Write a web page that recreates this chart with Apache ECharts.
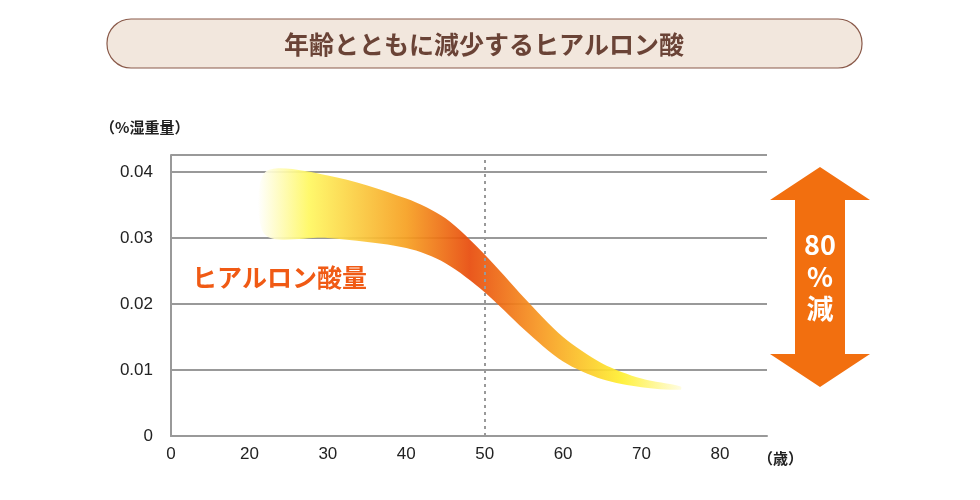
<!DOCTYPE html>
<html>
<head>
<meta charset="utf-8">
<script src="https://cdn.jsdelivr.net/npm/echarts@6/dist/echarts.min.js"></script>
</head>
<body style="margin:0">
<div id="main" style="width:980px;height:500px"></div>
<script>
var ages = [22, 30, 40, 45, 50, 55, 60, 65, 70, 75];
var upper = [0.0400, 0.0395, 0.0360, 0.0330, 0.0275, 0.0210, 0.0150, 0.0110, 0.0087, 0.0075];
var lower = [0.0305, 0.0300, 0.0285, 0.0262, 0.0218, 0.0162, 0.0113, 0.0086, 0.0074, 0.0070];
var xTicks = [10, 20, 30, 40, 50, 60, 70, 80];

var chart = echarts.init(document.getElementById('main'));
var font = '"Noto Sans CJK JP", sans-serif';

chart.setOption({
  grid: { left: 171, right: 213, top: 155, bottom: 64 },
  xAxis: {
    type: 'value', min: 10, max: 86, interval: 10,
    axisLine: { lineStyle: { color: '#999', width: 2 } },
    axisTick: { show: false }, splitLine: { show: false },
    axisLabel: { color: '#222', fontSize: 17, fontFamily: 'Arial', margin: 10,
      formatter: function (v) { return xTicks.indexOf(v) < 0 ? '' : (v === 10 ? '0' : v); } }
  },
  yAxis: {
    type: 'value', min: 0, max: 0.0426, interval: 0.01,
    axisLine: { show: true, lineStyle: { color: '#999', width: 2 } },
    axisTick: { show: false },
    splitLine: { lineStyle: { color: '#999', width: 2 } },
    axisLabel: { color: '#222', fontSize: 17, fontFamily: 'Arial', margin: 18,
      formatter: function (v) { return v > 0.0405 ? '' : (v === 0 ? '0' : v.toFixed(2)); } }
  },
  series: [
    { type: 'custom', silent: true, z: 1,
      data: [0],
      renderItem: function (params, api) {
        var pts = [];
        for (var i = 0; i < ages.length; i++) pts.push(api.coord([ages[i], upper[i]]));
        for (var j = ages.length - 1; j >= 0; j--) pts.push(api.coord([ages[j], lower[j]]));
        return { type: 'polygon', shape: { points: pts, smooth: 0.3 },
          style: { opacity: 0.92, fill: new echarts.graphic.LinearGradient(0, 0, 1, 0, [
            { offset: 0, color: '#ffffff' },
            { offset: 0.12, color: '#fff860' },
            { offset: 0.35, color: '#f7a020' },
            { offset: 0.5, color: '#e84a0a' },
            { offset: 0.66, color: '#f79520' },
            { offset: 0.86, color: '#fff030' },
            { offset: 1, color: '#fffde0' }
          ]) } };
      },
      markLine: { symbol: 'none', silent: true, label: { show: false },
        lineStyle: { color: '#999', type: [3, 4], width: 2 },
        data: [[{ coord: [50, 0] }, { coord: [50, 0.0426] }]] } }
  ],
  graphic: [
    { type: 'rect', shape: { x: 107, y: 19, width: 755, height: 49, r: 24 },
      style: { fill: '#f2e7dd', stroke: '#8a5a4a', lineWidth: 1.2 } },
    { type: 'text', x: 484, y: 44, style: { text: '年齢とともに減少するヒアルロン酸', fill: '#6a4336',
      font: 'bold 25px ' + font, align: 'center', verticalAlign: 'middle' } },
    { type: 'text', x: 100, y: 127, style: { text: '（%湿重量）', fill: '#222',
      font: 'bold 15px ' + font, verticalAlign: 'middle' } },
    { type: 'text', x: 758, y: 458, style: { text: '（歳）', fill: '#222',
      font: 'bold 15px ' + font, verticalAlign: 'middle' } },
    { type: 'text', x: 192, y: 277, style: { text: 'ヒアルロン酸量', fill: '#f05a14',
      font: 'bold 25px ' + font, verticalAlign: 'middle' } },
    { type: 'polygon', shape: { points: [[820, 167], [870, 200], [845, 200], [845, 354], [870, 354],
      [820, 387], [770, 354], [795, 354], [795, 200], [770, 200]] },
      style: { fill: '#f26f0f' } },
    { type: 'text', x: 820, y: 277, style: { text: '80\n%\n減', fill: '#fff',
      font: 'bold 27px ' + font, lineHeight: 32, align: 'center', verticalAlign: 'middle' } }
  ]
});
</script>
</body>
</html>
